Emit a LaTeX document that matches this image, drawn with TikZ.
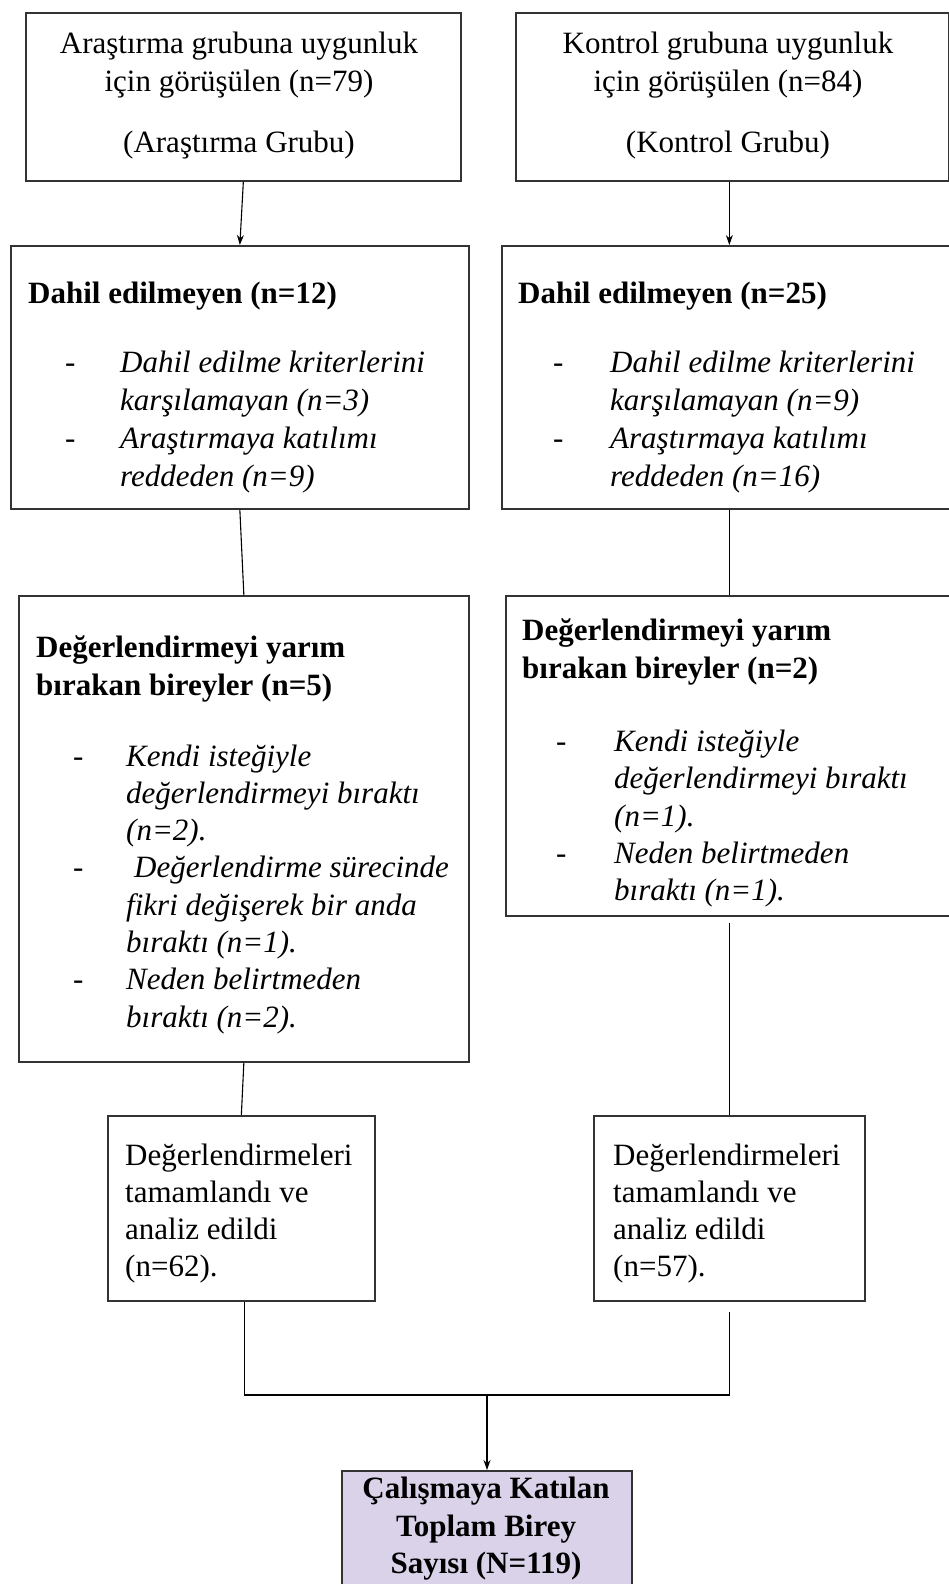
\documentclass[tikz,border=0pt]{standalone}
\usepackage{fontspec}
\setmainfont{Liberation Serif}
\usetikzlibrary{arrows.meta}
\definecolor{boxline}{HTML}{333333}
\definecolor{lav}{HTML}{D9D2E9}
\begin{document}
\begin{tikzpicture}[x=1pt,y=-1pt,
  box/.style={draw=boxline, line width=1.7pt, rectangle, inner sep=0pt, anchor=north west},
  txt/.style={inner sep=0pt, font=\fontsize{31}{37.5}\selectfont},
  ttl/.style={inner sep=0pt, font=\fontsize{31}{37.5}\selectfont\bfseries},
  itx/.style={inner sep=0pt, font=\fontsize{31}{37.5}\selectfont\itshape},
  conn/.style={draw=black, line width=1.1pt},
  arr/.style={conn, -{Stealth[length=10pt,width=7pt]}}]
\useasboundingbox (0,0) rectangle (949,1584);
\clip (0,0) rectangle (949,1584);
\fill[white] (0,0) rectangle (949,1584);

% boxes
\node[box, minimum width=435pt, minimum height=168pt] (A1) at (25,12) {};
\node[box, minimum width=433pt, minimum height=168pt] (B1) at (515,12) {};
\node[box, minimum width=458pt, minimum height=263pt] (A2) at (10,245) {};
\node[box, minimum width=460pt, minimum height=263pt] (B2) at (501,245) {};
\node[box, minimum width=450pt, minimum height=466pt] (A3) at (18,595) {};
\node[box, minimum width=456pt, minimum height=320pt] (B3) at (505,595) {};
\node[box, minimum width=267pt, minimum height=185pt] (A4) at (107,1115) {};
\node[box, minimum width=271pt, minimum height=185pt] (B4) at (593,1115) {};
\node[box, fill=lav, minimum width=290pt, minimum height=140pt] (C) at (341,1470) {};

% box A1 / B1 texts
\node[txt, anchor=base] (a1l1) at (239,54) {Araştırma grubuna uygunluk};
\node[txt, anchor=base] (a1l2) at (239,92) {için görüşülen (n=79)};
\node[txt, anchor=base] (a1l3) at (239,152) {(Araştırma Grubu)};
\node[txt, anchor=base] (b1l1) at (728,54) {Kontrol grubuna uygunluk};
\node[txt, anchor=base] (b1l2) at (728,92) {için görüşülen (n=84)};
\node[txt, anchor=base] (b1l3) at (728,152) {(Kontrol Grubu)};

% box A2
\node[ttl, anchor=base west] (a2t) at (28,303) {Dahil edilmeyen (n=12)};
\node[txt, anchor=base west] (a2d1) at (65,372) {-};
\node[itx, anchor=base west] (a2l1) at (120,372) {Dahil edilme kriterlerini};
\node[itx, anchor=base west] (a2l2) at (120,410) {karşılamayan (n=3)};
\node[txt, anchor=base west] (a2d2) at (65,448) {-};
\node[itx, anchor=base west] (a2l3) at (120,448) {Araştırmaya katılımı};
\node[itx, anchor=base west] (a2l4) at (120,486) {reddeden (n=9)};

% box B2
\node[ttl, anchor=base west] (b2t) at (518,303) {Dahil edilmeyen (n=25)};
\node[txt, anchor=base west] (b2d1) at (553,372) {-};
\node[itx, anchor=base west] (b2l1) at (610,372) {Dahil edilme kriterlerini};
\node[itx, anchor=base west] (b2l2) at (610,410) {karşılamayan (n=9)};
\node[txt, anchor=base west] (b2d2) at (553,448) {-};
\node[itx, anchor=base west] (b2l3) at (610,448) {Araştırmaya katılımı};
\node[itx, anchor=base west] (b2l4) at (610,486) {reddeden (n=16)};

% box A3
\node[ttl, anchor=base west] (a3t1) at (36,657) {Değerlendirmeyi yarım};
\node[ttl, anchor=base west] (a3t2) at (36,695) {bırakan bireyler (n=5)};
\node[txt, anchor=base west] (a3d1) at (73,766) {-};
\node[itx, anchor=base west] (a3l1) at (126,766) {Kendi isteğiyle};
\node[itx, anchor=base west] (a3l2) at (126,803.3) {değerlendirmeyi bıraktı};
\node[itx, anchor=base west] (a3l3) at (126,840.6) {(n=2).};
\node[txt, anchor=base west] (a3d2) at (73,877.9) {-};
\node[itx, anchor=base west] (a3l4) at (126,877.9) {\hspace{8pt}Değerlendirme sürecinde};
\node[itx, anchor=base west] (a3l5) at (126,915.2) {fikri değişerek bir anda};
\node[itx, anchor=base west] (a3l6) at (126,952.5) {bıraktı (n=1).};
\node[txt, anchor=base west] (a3d3) at (73,989.8) {-};
\node[itx, anchor=base west] (a3l7) at (126,989.8) {Neden belirtmeden};
\node[itx, anchor=base west] (a3l8) at (126,1027.1) {bıraktı (n=2).};

% box B3
\node[ttl, anchor=base west] (b3t1) at (522,640) {Değerlendirmeyi yarım};
\node[ttl, anchor=base west] (b3t2) at (522,678) {bırakan bireyler (n=2)};
\node[txt, anchor=base west] (b3d1) at (556,751.5) {-};
\node[itx, anchor=base west] (b3l1) at (614,751.5) {Kendi isteğiyle};
\node[itx, anchor=base west] (b3l2) at (614,788.8) {değerlendirmeyi bıraktı};
\node[itx, anchor=base west] (b3l3) at (614,826.1) {(n=1).};
\node[txt, anchor=base west] (b3d2) at (556,863.4) {-};
\node[itx, anchor=base west] (b3l4) at (614,863.4) {Neden belirtmeden};
\node[itx, anchor=base west] (b3l5) at (614,900.7) {bıraktı (n=1).};

% box A4 / B4
\node[txt, anchor=base west] (a4l1) at (125,1165) {Değerlendirmeleri};
\node[txt, anchor=base west] (a4l2) at (125,1202) {tamamlandı ve};
\node[txt, anchor=base west] (a4l3) at (125,1239) {analiz edildi};
\node[txt, anchor=base west] (a4l4) at (125,1276) {(n=62).};
\node[txt, anchor=base west] (b4l1) at (613,1165) {Değerlendirmeleri};
\node[txt, anchor=base west] (b4l2) at (613,1202) {tamamlandı ve};
\node[txt, anchor=base west] (b4l3) at (613,1239) {analiz edildi};
\node[txt, anchor=base west] (b4l4) at (613,1276) {(n=57).};

% box C
\node[ttl, anchor=base] (cl1) at (486,1498) {Çalışmaya Katılan};
\node[ttl, anchor=base] (cl2) at (486,1536) {Toplam Birey};
\node[ttl, anchor=base] (cl3) at (486,1573) {Sayısı (N=119)};

% connectors
\draw[arr] (A1.south) -- (A2.north);
\draw[arr] (B1.south -| B4.north) -- (B2.north -| B4.north);
\draw[conn] (A2.south) -- (A3.north);
\draw[conn] (B2.south -| B4.north) -- (B3.north -| B4.north);
\draw[conn] (A3.south) -- (A4.north);
\draw[conn] ([yshift=-6pt]B3.south -| B4.north) -- (B4.north);
\coordinate (J) at (487,1395);
\draw[conn] ([xshift=3pt]A4.south) |- (J);
\draw[conn] ([yshift=-10pt]B4.south) |- (J);
\draw[arr] (J) -- (C.north -| J);
\end{tikzpicture}
\end{document}
